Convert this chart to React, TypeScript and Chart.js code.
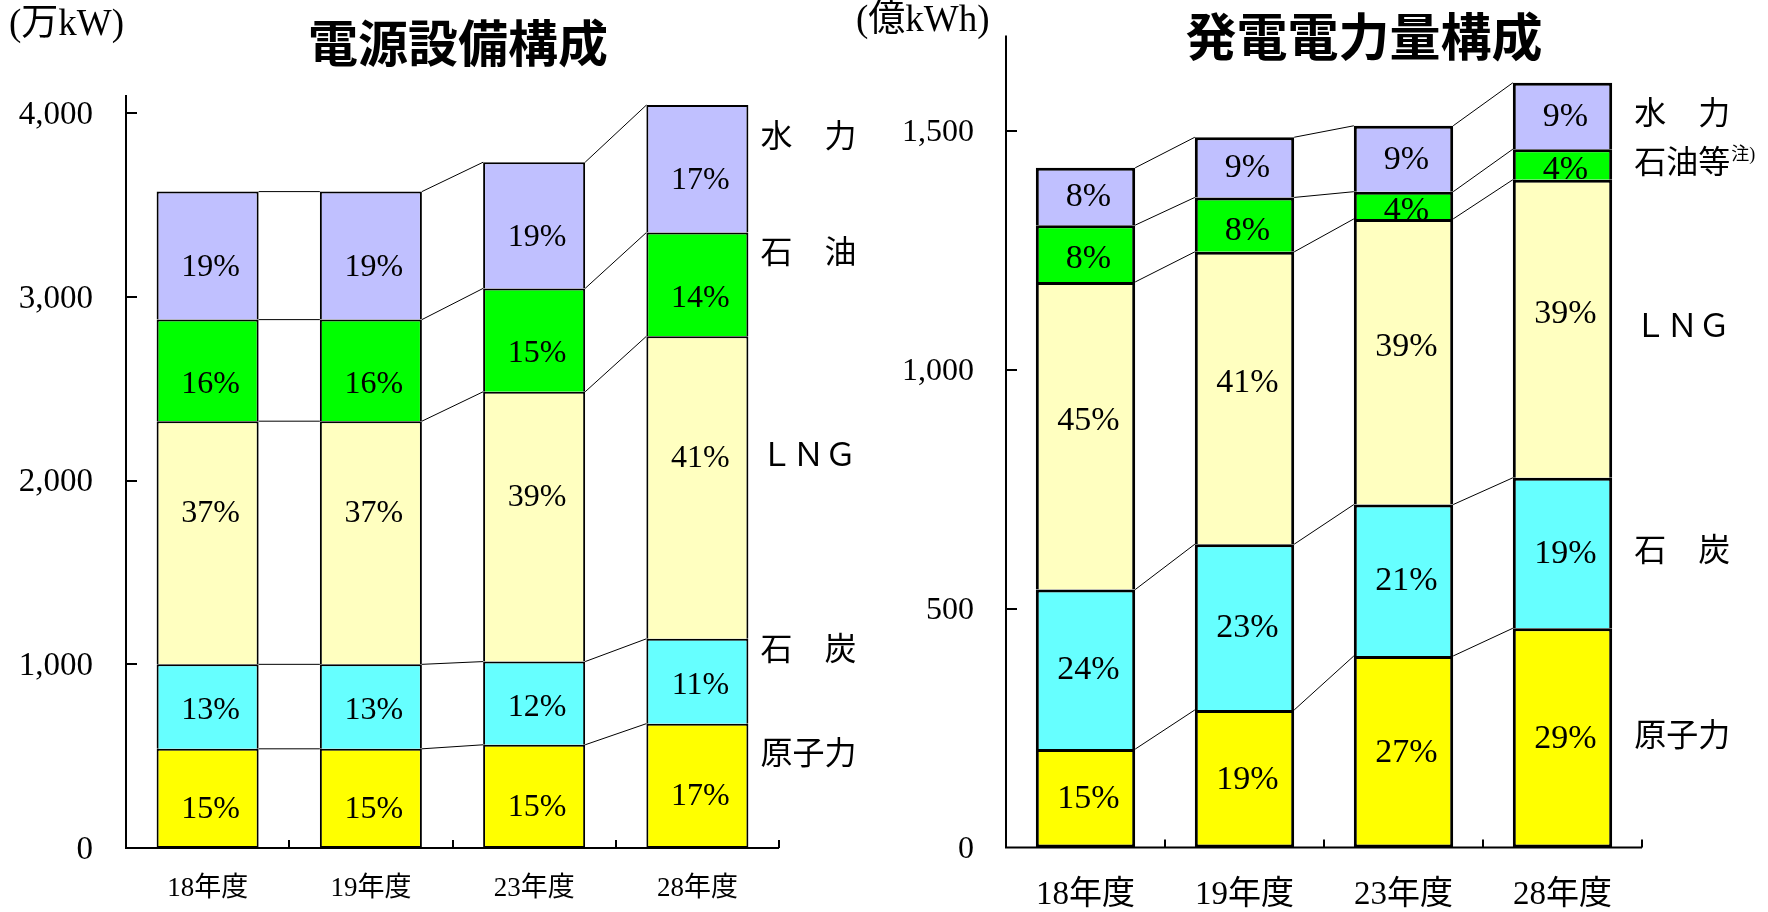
import React, { useEffect, useRef } from 'react';
import { Chart, registerables } from 'chart.js';

Chart.register(...registerables);

const categories = ['18年度', '19年度', '23年度', '28年度'];

// 電源設備構成 (万kW)
const capNuclear = [540, 540, 562, 677];
const capCoal = [460, 460, 453, 462];
const capLng = [1324, 1324, 1469, 1647];
const capOil = [553, 553, 563, 565];
const capHydro = [697, 697, 687, 694];
const capNuclearPct = [15, 15, 15, 17];
const capCoalPct = [13, 13, 12, 11];
const capLngPct = [37, 37, 39, 41];
const capOilPct = [16, 16, 15, 14];
const capHydroPct = [19, 19, 19, 17];
const capSeriesLabels = ['原子力', '石　炭', 'ＬＮＧ', '石　油', '水　力'];
const capYTicks = [0, 1000, 2000, 3000, 4000];
const capYMax = 4100;

// 発電電力量構成 (億kWh)
const genNuclear = [206, 288, 401, 459];
const genCoal = [334, 347, 317, 315];
const genLng = [644, 612, 598, 624];
const genOil = [119, 114, 57, 64];
const genHydro = [120, 126, 138, 139];
const genNuclearPct = [15, 19, 27, 29];
const genCoalPct = [24, 23, 21, 19];
const genLngPct = [45, 41, 39, 39];
const genOilPct = [8, 8, 4, 4];
const genHydroPct = [8, 9, 9, 9];
const genSeriesLabels = ['原子力', '石　炭', 'ＬＮＧ', '石油等', '水　力'];
const genNote = '注)';
const genYTicks = [0, 500, 1000, 1500];
const genYMax = 1700;

const seriesColors = ['#FFFF00', '#66FFFF', '#FFFFC0', '#00FF00', '#C0C0FF'];

const SERIF = '"Liberation Serif", "Noto Sans CJK JP", serif';
const SANS = '"Noto Sans CJK JP", "Noto Sans", sans-serif';

const decoPlugin = {
  id: 'deco',
  beforeDatasetsDraw(chart: any) {
    const ctx = chart.ctx;
    ctx.save();
    ctx.strokeStyle = '#000';
    ctx.lineWidth = 1;
    const n = chart.data.datasets.length;
    for (let d = 0; d < n; d++) {
      const els = chart.getDatasetMeta(d).data;
      for (let i = 0; i < els.length - 1; i++) {
        const a = els[i];
        const b = els[i + 1];
        ctx.beginPath();
        ctx.moveTo(a.x + a.width / 2, a.y);
        ctx.lineTo(b.x - b.width / 2, b.y);
        ctx.stroke();
      }
    }
    ctx.restore();
  },
  afterDatasetsDraw(chart: any, _args: any, o: any) {
    const ctx = chart.ctx;
    const { left, right, top, bottom } = chart.chartArea;
    ctx.save();
    // percentage labels
    ctx.fillStyle = '#000';
    ctx.textAlign = 'center';
    ctx.textBaseline = 'middle';
    ctx.font = `${o.pctSize}px ${SERIF}`;
    chart.data.datasets.forEach((ds: any, d: number) => {
      const els = chart.getDatasetMeta(d).data;
      els.forEach((el: any, i: number) => {
        const cy = (el.y + el.base) / 2 + o.pctDy[d];
        ctx.fillText(`${o.pct[d][i]}%`, el.x + 3, cy + 1);
      });
    });
    // series labels on the right
    ctx.textAlign = 'left';
    chart.data.datasets.forEach((ds: any, d: number) => {
      const els = chart.getDatasetMeta(d).data;
      const el = els[els.length - 1];
      const cy = (el.y + el.base) / 2 + o.sideDy;
      const x = el.x + el.width / 2 + o.sideGap;
      const txt = o.sideLabels[d];
      ctx.font = `${o.sideSize}px ${SERIF}`;
      ctx.fillText(txt, x, cy);
      if (o.note && d === o.noteIndex) {
        const w = ctx.measureText(txt).width;
        ctx.font = `${o.noteSize}px ${SERIF}`;
        ctx.fillText(o.note, x + w + 1, cy - 9);
      }
    });
    // axes
    ctx.strokeStyle = '#000';
    ctx.lineWidth = 2;
    ctx.beginPath();
    ctx.moveTo(left, top);
    ctx.lineTo(left, bottom + 1);
    ctx.moveTo(left - 1, bottom);
    ctx.lineTo(right, bottom);
    const ys = chart.scales.y;
    ys.ticks.forEach((t: any) => {
      if (t.value === 0) return;
      const py = Math.round(ys.getPixelForValue(t.value));
      ctx.moveTo(left, py);
      ctx.lineTo(left + 11, py);
    });
    const xs = chart.scales.x;
    const nCat = chart.data.labels.length;
    const half = (xs.getPixelForValue(1) - xs.getPixelForValue(0)) / 2;
    for (let i = 0; i < nCat; i++) {
      const px = Math.round(xs.getPixelForValue(i) + half);
      ctx.moveTo(px, bottom);
      ctx.lineTo(px, bottom - 8);
    }
    ctx.stroke();
    // y tick labels
    ctx.textAlign = 'right';
    ctx.textBaseline = 'middle';
    ctx.font = `${o.ySize}px ${SERIF}`;
    ys.ticks.forEach((t: any) => {
      const py = ys.getPixelForValue(t.value);
      ctx.fillText(Number(t.value).toLocaleString('en-US'), left - o.yPad, py + 2);
    });
    // title
    ctx.textAlign = 'center';
    ctx.textBaseline = 'middle';
    ctx.font = `bold ${o.titleSize}px ${SANS}`;
    ctx.fillText(o.title, o.titleX, o.titleY);
    // unit
    ctx.textAlign = 'left';
    ctx.font = `${o.unitSize}px ${SERIF}`;
    ctx.fillText(o.unit, o.unitX, o.unitY);
    ctx.restore();
  },
};

function makeConfig(
  values: number[][],
  pct: number[][],
  yTicks: number[],
  yMax: number,
  border: number,
  layout: any,
  xFont: any,
  deco: any
): any {
  return {
    type: 'bar',
    data: {
      labels: categories,
      datasets: values.map((v, d) => ({
        label: deco.sideLabels[d],
        data: v,
        backgroundColor: seriesColors[d],
        borderColor: '#000',
        borderWidth: { top: border, left: border, right: border, bottom: d === 0 ? border : 0 },
        borderSkipped: false,
        categoryPercentage: 1,
        barPercentage: 0.625,
      })),
    },
    options: {
      responsive: false,
      animation: false,
      devicePixelRatio: 1,
      layout: { padding: layout.padding },
      plugins: {
        legend: { display: false },
        tooltip: { enabled: false },
        title: { display: false },
        deco: { ...deco, pct },
      },
      scales: {
        x: {
          stacked: true,
          grid: { display: false, drawTicks: false },
          border: { display: false },
          ticks: {
            color: '#000',
            padding: xFont.pad,
            font: { family: SERIF, size: xFont.size },
          },
          afterFit: (s: any) => {
            s.height = layout.xHeight;
          },
        },
        y: {
          stacked: true,
          min: 0,
          max: yMax,
          grid: { display: false, drawTicks: false },
          border: { display: false },
          ticks: { display: false },
          afterBuildTicks: (s: any) => {
            s.ticks = yTicks.map((v) => ({ value: v }));
          },
          afterFit: (s: any) => {
            s.width = layout.yWidth;
          },
        },
      },
    },
    plugins: [decoPlugin],
  };
}

export default function App() {
  const refA = useRef<HTMLCanvasElement>(null);
  const refB = useRef<HTMLCanvasElement>(null);

  useEffect(() => {
    const chartA = new Chart(
      refA.current as HTMLCanvasElement,
      makeConfig(
        [capNuclear, capCoal, capLng, capOil, capHydro],
        [capNuclearPct, capCoalPct, capLngPct, capOilPct, capHydroPct],
        capYTicks,
        capYMax,
        2,
        { padding: { top: 95, right: 105, bottom: 0, left: 0 }, xHeight: 64, yWidth: 126 },
        { size: 27, pad: 25 },
        {
          title: '電源設備構成',
          titleX: 458,
          titleY: 43,
          titleSize: 50,
          unit: '(万kW)',
          unitX: 9,
          unitY: 25,
          unitSize: 37,
          pctSize: 32,
          pctDy: [10, 3, -30, 13, 11],
          ySize: 33,
          yPad: 33,
          sideLabels: capSeriesLabels,
          sideSize: 32,
          sideGap: 12,
          sideDy: -30,
          note: null,
          noteIndex: -1,
          noteSize: 16,
        }
      )
    );
    const chartB = new Chart(
      refB.current as HTMLCanvasElement,
      makeConfig(
        [genNuclear, genCoal, genLng, genOil, genHydro],
        [genNuclearPct, genCoalPct, genLngPct, genOilPct, genHydroPct],
        genYTicks,
        genYMax,
        3,
        { padding: { top: 35.5, right: 126, bottom: 0, left: 0 }, xHeight: 64.5, yWidth: 166 },
        { size: 33, pad: 28 },
        {
          title: '発電電力量構成',
          titleX: 524,
          titleY: 37,
          titleSize: 51,
          unit: '(億kWh)',
          unitX: 16,
          unitY: 21,
          unitSize: 37,
          pctSize: 34,
          pctDy: [0, 0, -16, 5, 0],
          ySize: 32,
          yPad: 32,
          sideLabels: genSeriesLabels,
          sideSize: 32,
          sideGap: 22,
          sideDy: 0,
          note: genNote,
          noteIndex: 3,
          noteSize: 18,
        }
      )
    );
    return () => {
      chartA.destroy();
      chartB.destroy();
    };
  }, []);

  return (
    <div
      style={{
        position: 'fixed',
        left: 0,
        top: 0,
        width: 1768,
        height: 912,
        background: '#fff',
        overflow: 'hidden',
      }}
    >
      <canvas
        ref={refA}
        width={884}
        height={912}
        style={{ position: 'absolute', left: 0, top: 0, width: 884, height: 912 }}
      />
      <canvas
        ref={refB}
        width={928}
        height={912}
        style={{ position: 'absolute', left: 840, top: 0, width: 928, height: 912 }}
      />
    </div>
  );
}
